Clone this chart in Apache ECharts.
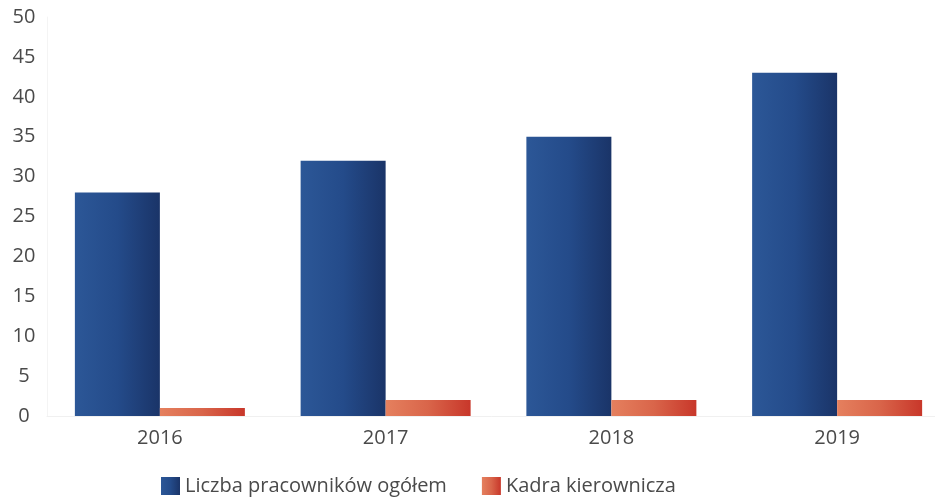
<!DOCTYPE html>
<html><head><meta charset="utf-8">
<script src="https://cdn.jsdelivr.net/npm/echarts@6/dist/echarts.min.js"></script>
<style>html,body{margin:0;padding:0;background:#fff}#c{width:935px;height:497px}</style>
</head><body><div id="c"></div>
<script>
const categories = ['2016', '2017', '2018', '2019'];
const totalEmployees = [28, 32, 35, 43];
const management = [1, 2, 2, 2];
const seriesNames = ['Liczba pracowników ogółem', 'Kadra kierownicza'];

const blueGrad = new echarts.graphic.LinearGradient(0, 0, 1, 0, [
  {offset: 0, color: '#2c5797'}, {offset: 0.5, color: '#244b8a'}, {offset: 1, color: '#1a3468'}
]);
const redGrad = new echarts.graphic.LinearGradient(0, 0, 1, 0, [
  {offset: 0, color: '#e5805e'}, {offset: 0.5, color: '#d9654a'}, {offset: 1, color: '#c8372a'}
]);
const chart = echarts.init(document.getElementById('c'));
chart.setOption({
  animation: false,
  grid: {left: 47, width: 903, top: 17, height: 399, outerBoundsMode: 'none', containLabel: false},
  legend: {
    left: 156, top: 471, itemWidth: 19, itemHeight: 18, itemGap: 35, icon: 'rect',
    textStyle: {color: '#4a4a4a', fontSize: 20, fontFamily: 'Open Sans'},
    data: seriesNames
  },
  xAxis: {
    type: 'category', data: categories,
    axisLine: {lineStyle: {color: '#f0f0f0'}}, axisTick: {show: false},
    axisLabel: {color: '#4a4a4a', fontSize: 20, fontFamily: 'Open Sans', margin: 12}
  },
  yAxis: {
    type: 'value', min: 0, max: 50, interval: 5,
    axisLine: {show: true, lineStyle: {color: '#f4f4f4'}}, axisTick: {show: false},
    splitLine: {show: false},
    axisLabel: {color: '#4a4a4a', fontSize: 20, fontFamily: 'Open Sans', margin: 23, align: 'center'}
  },
  series: [
    {name: seriesNames[0], type: 'bar', data: totalEmployees, barWidth: 85, barGap: '0%',
     itemStyle: {color: blueGrad}},
    {name: seriesNames[1], type: 'bar', data: management, barWidth: 85,
     itemStyle: {color: redGrad}}
  ]
});
</script></body></html>
